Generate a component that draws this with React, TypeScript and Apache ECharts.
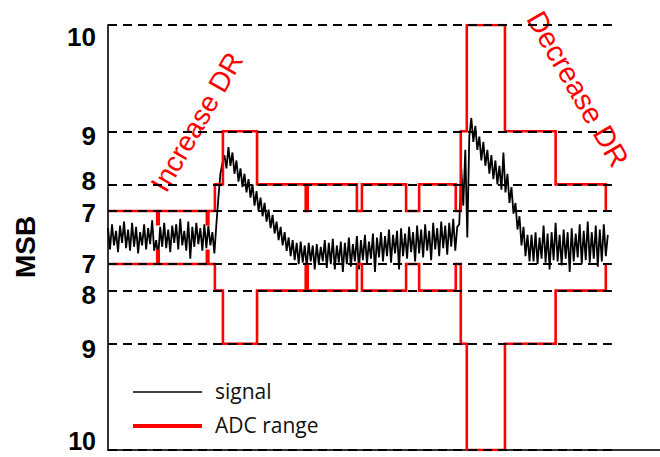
import React, { useEffect, useRef } from "react";
import * as echarts from "echarts";

// Tick labels (MSB) top to bottom and the signed ADC full-scale they stand for (2^(MSB-7))
const msbLabels = ["10", "9", "8", "7", "7", "8", "9", "10"];
const rangeValues = [8, 4, 2, 1, -1, -2, -4, -8];
// fine vertical nudges of each tick label in px (positive = down)
const labelNudge = [12, 5, -3, 2, 0, 4, 5, -9];

// signal sample interval (time units, 0..110 axis)
const sampleStep = 0.4;

// signal, in units of the 7-MSB range
const signalBaseline1 = [
  0.35, -0.45, 0.5, -0.3, 0.25, -0.55, 0.45, -0.2, 0.6, -0.4,
  0.3, -0.5, 0.55, -0.35, 0.4, -0.6, 0.2, -0.3, 0.5, -0.45,
  0.35, -0.25, 0.65, -0.5, -0.1, -0.75, 0.4, -0.35, 0.55, -0.4,
  0.3, -0.55, 0.45, -0.2, 0.5, -0.45, 0.7, -0.3, 0.25, -0.5,
  0.6, -0.8, 0.4, -0.35, 0.55, -0.25, 0.35, -0.5, 0.5, -0.4,
  0.45, -0.3, 0.2, -0.6,
];
const signalPulse1 = [
  0.5, 1.5, 2.4, 2.8, 3.1, 2.6, 3.4, 2.7, 3.2, 2.4,
  2.9, 2.1, 2.6, 1.9, 2.4, 1.7, 2.2, 1.5, 2.0, 1.2,
  1.75, 1.0, 1.5, 0.8, 1.3, 0.6, 1.05, 0.35, 0.85, 0.15,
  0.6, -0.1, 0.4, -0.3, 0.2, -0.5, 0.0, -0.7, -0.1, -0.85,
  -0.2, -1.0, -0.15, -0.95, -0.3, -1.1, -0.2, -0.9, -0.3, -1.2,
  -0.25, -1.0, -0.35, -0.9,
];
const signalBaseline2 = [
  -0.1, -1.15, -0.2, -1.0, -0.05, -1.2, -0.3, -0.95, -0.15, -1.3,
  -0.2, -1.0, 0.0, -1.1, -0.25, -0.9, 0.05, -1.2, -0.1, -0.85,
  0.1, -1.0, -0.15, -0.8, 0.15, -1.3, 0.0, -0.75, 0.2, -0.9,
  0.05, -0.7, 0.3, -0.95, 0.1, -0.6, 0.25, -1.2, 0.35, -0.7,
  0.15, -0.8, 0.4, -0.55, 0.2, -0.9, 0.45, -0.6, 0.3, -0.75,
  0.5, -0.5, 0.25, -0.85, 0.55, -0.45, 0.35, -0.7, 0.6, -0.4,
  0.45, -0.65, 0.55, -0.35, 0.7, -0.5, 0.4,
];
const signalPulse2 = [
  0.5, 2.6, 1.2, 3.3, 0.0, 3.8, 4.5, 3.6, 4.2, 3.3,
  3.8, 2.9, 3.6, 2.7, 3.3, 2.4, 3.1, 2.2, 2.9, 2.0,
  2.7, 1.8, 3.2, 1.7, 2.4, 1.3, 1.9, 0.9, 1.3, 0.3,
  0.8, -0.3, 0.4, -0.7, 0.1, -0.9,
];
const signalBaseline3 = [
  0.1, -0.9, 0.2, -1.0, 0.0, -0.8, 0.45, -0.95, 0.15, -1.2,
  0.2, -0.85, 0.55, -0.9, 0.1, -1.05, 0.3, -0.8, 0.2, -1.3,
  0.35, -0.9, 0.15, -0.75, 0.5, -1.0, 0.25, -0.85, 0.6, -0.95,
  0.2, -0.8, 0.45, -1.1, 0.3, -0.9, 0.5, -0.7, 0.1,
];

// ADC range: switching times and MSB level held between them
const adcEdges = [0, 9.8, 10.1, 19.7, 20.0, 21.3, 22.9, 29.7, 39.4, 39.8, 49.6, 50.6, 59.4, 62.0, 69.3, 70.3, 71.5, 79.1, 89.2, 99.2];
const adcLevels = [7, 6, 7, 6, 7, 8, 9, 8, 7, 8, 7, 8, 7, 8, 7, 9, 10, 9, 8];
const adcEndLevel = 7;

const gridLineEnd = 100.4;
const xAxisMax = 110;

export default function App() {
  const ref = useRef<HTMLDivElement>(null);

  useEffect(() => {
    document.body.style.margin = "0";
    if (!ref.current) return;
    const chart = echarts.init(ref.current, undefined, { renderer: "svg" });

    const signal = [
      ...signalBaseline1,
      ...signalPulse1,
      ...signalBaseline2,
      ...signalPulse2,
      ...signalBaseline3,
    ].map((v, i) => [+(i * sampleStep).toFixed(2), v]);

    const lvl = (m: number) => Math.pow(2, m - 7);
    const upper: number[][] = [];
    for (let i = 0; i < adcLevels.length; i++) {
      upper.push([adcEdges[i], lvl(adcLevels[i])]);
      upper.push([adcEdges[i + 1], lvl(adcLevels[i])]);
    }
    upper.push([adcEdges[adcEdges.length - 1], lvl(adcEndLevel)]);
    const lower = upper.map(([x, y]) => [x, -y]);

    const font = '"Liberation Sans", Arial, sans-serif';

    const rich: Record<string, any> = {};
    labelNudge.forEach((d, i) => {
      rich["s" + i] = {
        fontSize: i === labelNudge.length - 1 ? 25 : 26,
        fontWeight: "bold",
        fontFamily: font,
        color: "#000",
        padding: d >= 0 ? [2 * d, 0, 0, 0] : [0, 0, -2 * d, 0],
      };
    });

    chart.setOption({
      animation: false,
      grid: { left: 108, right: 0, top: 25, bottom: 7, containLabel: false },
      xAxis: {
        type: "value",
        min: 0,
        max: xAxisMax,
        axisLine: { show: true, onZero: false, lineStyle: { color: "#333", width: 2 } },
        axisTick: { show: false },
        axisLabel: { show: false },
        splitLine: { show: false },
      },
      yAxis: {
        type: "value",
        min: -8,
        max: 8,
        interval: 1,
        axisLine: { show: true, onZero: false, lineStyle: { color: "#333", width: 2 } },
        axisTick: { show: false },
        splitLine: { show: false },
        axisLabel: {
          margin: 12,
          formatter: (v: number) => {
            const i = rangeValues.indexOf(v);
            return i >= 0 ? `{s${i}|${msbLabels[i]}}` : "";
          },
          rich,
        },
      },
      graphic: [
        {
          type: "text",
          x: 25,
          y: 247,
          rotation: Math.PI / 2,
          style: { text: "MSB", font: `bold 28px ${font}`, fill: "#000", align: "center", verticalAlign: "middle" },
        },
        {
          type: "text",
          x: 197,
          y: 122,
          rotation: (60 * Math.PI) / 180,
          style: { text: "Increase DR", font: `28px ${font}`, fill: "#ff0000", align: "center", verticalAlign: "middle" },
        },
        {
          type: "text",
          x: 578,
          y: 89,
          rotation: (-60 * Math.PI) / 180,
          style: { text: "Decrease DR", font: `29px ${font}`, fill: "#ff0000", align: "center", verticalAlign: "middle" },
        },
        { type: "line", shape: { x1: 133, y1: 392, x2: 202, y2: 392 }, style: { stroke: "#000", lineWidth: 1.5 } },
        { type: "line", shape: { x1: 133, y1: 426, x2: 202, y2: 426 }, style: { stroke: "#ff0000", lineWidth: 4 } },
        {
          type: "text",
          x: 215,
          y: 391,
          style: { text: "signal", font: '21px "Open Sans", sans-serif', fill: "#111", align: "left", verticalAlign: "middle" },
        },
        {
          type: "text",
          x: 215,
          y: 425,
          style: { text: "ADC range", font: '21px "Open Sans", sans-serif', fill: "#111", align: "left", verticalAlign: "middle" },
        },
      ],
      series: [
        {
          name: "grid levels",
          type: "line",
          data: [[0, 0]],
          symbol: "none",
          lineStyle: { opacity: 0 },
          silent: true,
          z: 1,
          markLine: {
            silent: true,
            symbol: ["none", "none"],
            label: { show: false },
            lineStyle: { type: [9, 6], color: "#000", width: 2 },
            data: rangeValues.map((v) => [{ coord: [0, v] }, { coord: [gridLineEnd, v] }]),
          },
        },
        {
          name: "signal",
          type: "line",
          data: signal,
          symbol: "none",
          lineStyle: { color: "#000", width: 1.8 },
          z: 3,
        },
        {
          name: "ADC range",
          type: "line",
          data: upper,
          symbol: "none",
          lineStyle: { color: "#ff0000", width: 2.6, join: "miter" },
          z: 4,
        },
        {
          name: "ADC range low",
          type: "line",
          data: lower,
          symbol: "none",
          lineStyle: { color: "#ff0000", width: 2.6, join: "miter" },
          z: 4,
        },
      ],
    });

    return () => chart.dispose();
  }, []);

  return <div ref={ref} style={{ width: 660, height: 457 }} />;
}
